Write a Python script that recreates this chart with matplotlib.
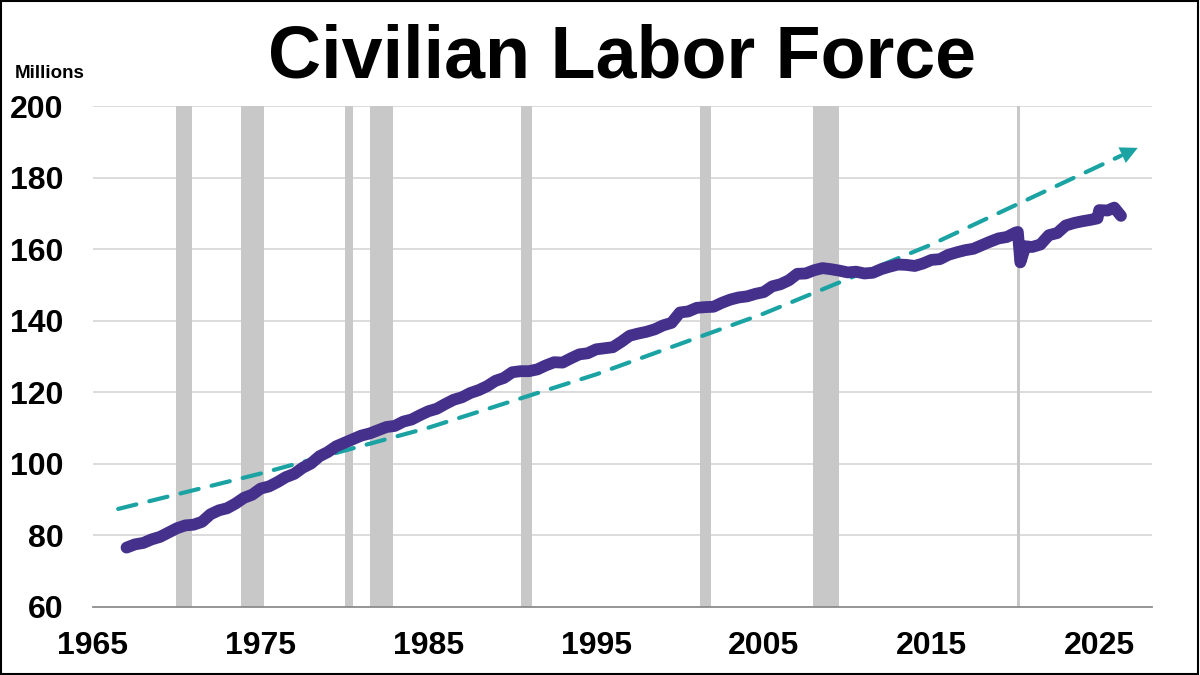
import matplotlib
matplotlib.use("Agg")
import matplotlib.pyplot as plt
from matplotlib.patches import Rectangle

plt.rcParams['font.family'] = ['Liberation Sans', 'DejaVu Sans']

# Civilian labor force, millions
years = [1967.0, 1967.5, 1968.0, 1968.5, 1969.0, 1969.5, 1970.0, 1970.5, 1971.0, 1971.5,
         1972.0, 1972.5, 1973.0, 1973.5, 1974.0, 1974.5, 1975.0, 1975.5, 1976.0, 1976.5,
         1977.0, 1977.5, 1978.0, 1978.5, 1979.0, 1979.5, 1980.0, 1980.5, 1981.0, 1981.5,
         1982.0, 1982.5, 1983.0, 1983.5, 1984.0, 1984.5, 1985.0, 1985.5, 1986.0, 1986.5,
         1987.0, 1987.5, 1988.0, 1988.5, 1989.0, 1989.5, 1990.0, 1990.5, 1991.0, 1991.5,
         1992.0, 1992.5, 1993.0, 1993.5, 1994.0, 1994.5, 1995.0, 1995.5, 1996.0, 1996.5,
         1997.0, 1997.5, 1998.0, 1998.5, 1999.0, 1999.5, 2000.0, 2000.5, 2001.0, 2001.5,
         2002.0, 2002.5, 2003.0, 2003.5, 2004.0, 2004.5, 2005.0, 2005.5, 2006.0, 2006.5,
         2007.0, 2007.5, 2008.0, 2008.5, 2009.0, 2009.5, 2010.0, 2010.5, 2011.0, 2011.5,
         2012.0, 2012.5, 2013.0, 2013.5, 2014.0, 2014.5, 2015.0, 2015.5, 2016.0, 2016.5,
         2017.0, 2017.5, 2018.0, 2018.5, 2019.0, 2019.5, 2020.0, 2020.15, 2020.3, 2020.6,
         2021.0, 2021.5, 2022.0, 2022.5, 2023.0, 2023.5, 2024.0, 2024.5, 2024.9, 2025.0,
         2025.5, 2025.9, 2026.3]
labor_force = [76.6, 77.5, 77.9, 78.9, 79.6, 80.8, 82.0, 82.8, 83.0, 83.8,
               85.9, 87.0, 87.6, 88.9, 90.5, 91.4, 93.1, 93.7, 94.9, 96.3,
               97.2, 98.9, 100.1, 102.1, 103.3, 104.9, 105.9, 106.9, 107.9, 108.5,
               109.4, 110.3, 110.6, 111.8, 112.4, 113.6, 114.7, 115.4, 116.7, 117.9,
               118.6, 119.8, 120.6, 121.7, 123.2, 124.0, 125.6, 125.9, 125.9, 126.4,
               127.5, 128.4, 128.3, 129.5, 130.6, 130.9, 132.0, 132.3, 132.6, 134.1,
               135.8, 136.4, 136.9, 137.6, 138.7, 139.4, 142.3, 142.6, 143.6, 143.8,
               143.9, 145.0, 145.9, 146.5, 146.8, 147.5, 148.0, 149.6, 150.2, 151.3,
               153.1, 153.2, 154.1, 154.7, 154.4, 154.0, 153.5, 153.7, 153.2, 153.4,
               154.4, 155.1, 155.7, 155.6, 155.3, 156.0, 157.0, 157.2, 158.4, 159.1,
               159.7, 160.1, 161.1, 162.1, 163.0, 163.4, 164.6, 164.8, 156.3, 160.8,
               160.6, 161.3, 163.9, 164.5, 166.6, 167.3, 167.8, 168.2, 168.6, 170.9,
               170.8, 171.6, 169.3]

# Exponential trend line values
trend_years = [1966.5, 1975.0, 1985.0, 1995.0, 2005.0, 2015.0, 2027.3]
trend_values = [87.4, 97.3, 110.1, 125.0, 142.0, 161.3, 188.3]

# NBER recessions
recessions = [(1969.92, 1970.88), (1973.83, 1975.17), (1980.0, 1980.5), (1981.5, 1982.88),
              (1990.5, 1991.17), (2001.17, 2001.83), (2007.92, 2009.5), (2020.1, 2020.3)]

x_ticks = [1965, 1975, 1985, 1995, 2005, 2015, 2025]
y_ticks = [60, 80, 100, 120, 140, 160, 180, 200]

purple = '#45308C'
teal = '#1BA3A3'

fig = plt.figure(figsize=(12, 6.75), dpi=100)
ax = fig.add_axes([93/1200, 68/675, (1152-93)/1200, (607-106)/675])

for s, e in recessions:
    ax.axvspan(s, e, color='#C8C8C8', lw=0, zorder=1)

for y in y_ticks[1:]:
    ax.axhline(y, color='#D9D9D9', lw=1.3, zorder=0)

# trend line with arrow
slope_end = (trend_values[-1] - trend_values[-2]) / (trend_years[-1] - trend_years[-2])
ax.plot(trend_years[:-1] + [trend_years[-1] - 1.0],
        trend_values[:-1] + [trend_values[-1] - 1.0 * slope_end],
        color=teal, lw=3, linestyle=(0, (4.5, 3.2)), dash_capstyle='round', zorder=3)
ax.annotate('', xy=(trend_years[-1], trend_values[-1]),
            xytext=(trend_years[-1] - 1.2, trend_values[-1] - 1.2 * slope_end),
            arrowprops=dict(arrowstyle='-|>', color=teal, lw=0, mutation_scale=31,
                            shrinkA=0, shrinkB=0),
            zorder=3)

ax.plot(years, labor_force, color=purple, lw=8.5, solid_capstyle='round',
        solid_joinstyle='round', zorder=4)

ax.set_xlim(1965, 2028.15)
ax.set_ylim(60, 200)
ax.set_xticks(x_ticks)
ax.set_yticks(y_ticks)
ax.set_xticklabels([str(t) for t in x_ticks], fontsize=23, fontweight='bold')
ax.set_yticklabels([str(t) for t in y_ticks], fontsize=23, fontweight='bold')
ax.tick_params(axis='both', length=0)
ax.tick_params(axis='y', pad=21)
ax.tick_params(axis='x', pad=17)

for side in ['top', 'right', 'left']:
    ax.spines[side].set_visible(False)
ax.spines['bottom'].set_color('#8C8C8C')
ax.spines['bottom'].set_linewidth(1.3)

fig.text(622/1200, 1 - 58/675, 'Civilian Labor Force', fontsize=53, fontweight='bold',
         ha='center', va='center')
fig.text(15/1200, 1 - 73/675, 'Millions', fontsize=13.5, fontweight='bold',
         ha='left', va='center')

fig.patches.append(Rectangle((0.0005, 0.0008), 0.998, 0.998, transform=fig.transFigure,
                             fill=False, edgecolor='black', lw=1.5))

fig.savefig('out.png', dpi=100)
